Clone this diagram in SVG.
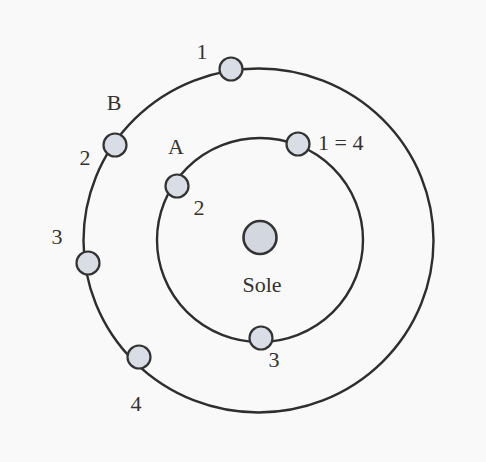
<svg xmlns="http://www.w3.org/2000/svg" width="486" height="462" viewBox="0 0 486 462">
<style>
.orbit{fill:none;stroke:#2e2e2e;stroke-width:2.4}
.planet{fill:#d9dee6;stroke:#333;stroke-width:2.2}
.sun{fill:#d3d8e0;stroke:#333;stroke-width:2.6}
.lbl{font-family:"Liberation Serif","Times New Roman",serif;font-size:22px;fill:#333}
</style>
<rect width="486" height="462" fill="#f9f9f9"/>
<g id="connectors">
<ellipse class="orbit" cx="258.5" cy="240.5" rx="175" ry="172"/>
<ellipse class="orbit" cx="260" cy="240" rx="103" ry="102"/>
</g>
<g id="sun"><circle class="sun" cx="260" cy="237.5" r="16.5"/><text class="lbl" x="262" y="292" text-anchor="middle">Sole</text></g>
<g id="B1"><circle class="planet" cx="231" cy="69" r="11.5"/><text class="lbl" x="202" y="59" text-anchor="middle">1</text></g>
<g id="B"><text class="lbl" x="114" y="110" text-anchor="middle">B</text></g>
<g id="B2"><circle class="planet" cx="115" cy="145" r="11.5"/><text class="lbl" x="85" y="165" text-anchor="middle">2</text></g>
<g id="B3"><circle class="planet" cx="88" cy="263" r="11.5"/><text class="lbl" x="57" y="244" text-anchor="middle">3</text></g>
<g id="B4"><circle class="planet" cx="139" cy="357" r="11.5"/><text class="lbl" x="136" y="411" text-anchor="middle">4</text></g>
<g id="A"><text class="lbl" x="176" y="154" text-anchor="middle">A</text></g>
<g id="A14"><circle class="planet" cx="298" cy="144" r="11.5"/><text class="lbl" x="318" y="150">1 = 4</text></g>
<g id="A2"><circle class="planet" cx="177" cy="186" r="11.5"/><text class="lbl" x="199" y="215" text-anchor="middle">2</text></g>
<g id="A3"><circle class="planet" cx="261" cy="338" r="11.5"/><text class="lbl" x="274" y="367" text-anchor="middle">3</text></g>
</svg>
